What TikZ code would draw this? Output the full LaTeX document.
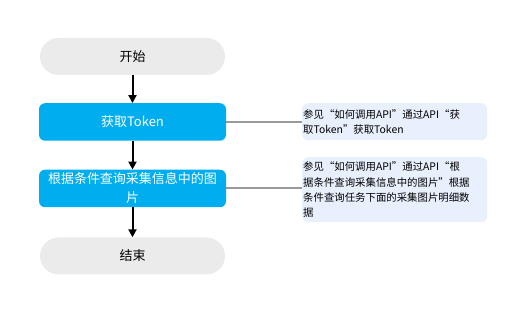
\documentclass[tikz,border=0pt]{standalone}
\usepackage{fontspec}
\setmainfont{Noto Sans CJK SC}
\usetikzlibrary{arrows.meta}
\definecolor{pillgray}{HTML}{EBEBEB}
\definecolor{stepblue}{HTML}{00AEEF}
\definecolor{notefill}{HTML}{E8EFFD}
\definecolor{linkgray}{HTML}{999999}
\tikzset{
  x=1pt,y=-1pt,
  pill/.style={fill=pillgray,rounded corners=18.5pt,minimum width=185pt,minimum height=37pt,inner sep=0pt,font=\fontsize{13}{19}\selectfont},
  stepbox/.style={fill=stepblue,rounded corners=6pt,minimum width=187pt,minimum height=37.5pt,inner sep=0pt,text=white,align=center,font=\fontsize{13}{19}\selectfont},
  notebox/.style={fill=notefill,rounded corners=6pt,minimum width=185pt,text width=183pt,inner xsep=1pt,inner ysep=0pt,align=left,anchor=north west,font=\fontsize{10.4}{15.3}\selectfont},
  flow/.style={-{Triangle[length=8pt,width=8pt]},line width=2pt,black},
  link/.style={linkgray,line width=2pt}
}
\begin{document}
\begin{tikzpicture}
\useasboundingbox (0,0) rectangle (525,312);
\node[pill] (start) at (132.5,56.5) {开始};
\node[stepbox] (token) at (132.5,122) {获取Token};
\node[stepbox] (query) at (132.5,188.5) {根据条件查询采集信息中的图\\片};
\node[pill] (end) at (132.5,256) {结束};
\node[notebox,minimum height=37pt] (n1) at (302,103) {参见“如何调用API”通过API“获\\取Token”获取Token};
\node[notebox,minimum height=65pt] (n2) at (302,157) {参见“如何调用API”通过API“根\\据条件查询采集信息中的图片”根据\\条件查询任务下面的采集图片明细数\\据};
\draw[flow] (start) -- (token);
\draw[flow] (token) -- (query);
\draw[flow] (query) -- (end);
\draw[link] (token.east) -- (token.east -| n1.west);
\draw[link] (query.east) -- (query.east -| n2.west);
\end{tikzpicture}
\end{document}
